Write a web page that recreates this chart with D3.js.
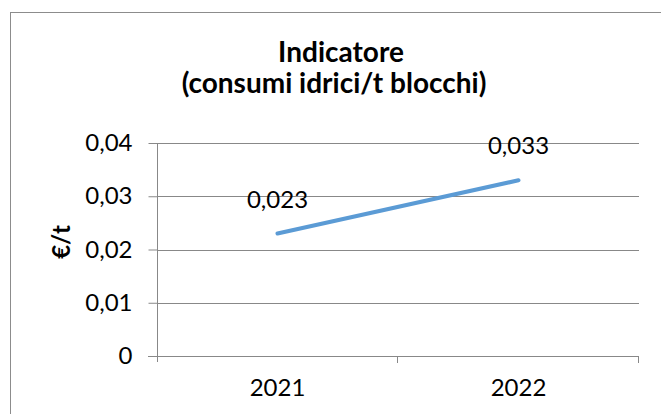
<!DOCTYPE html>
<html>
<head>
<meta charset="utf-8">
<script src="https://cdn.jsdelivr.net/npm/d3@7"></script>
<style>
  body { margin: 0; background: #fff; }
  text { font-family: Lato, "Open Sans", sans-serif; fill: #000; }
</style>
</head>
<body>
<script>
var years = ["2021", "2022"];
var values = [0.023, 0.033];
var labels = ["0,023", "0,033"];
var yTicks = [0, 0.01, 0.02, 0.03, 0.04];

var svgWidth = 661, svgHeight = 414;
var Margin = { top: 143, right: 22, bottom: 58, left: 157 };
var chartWidth = svgWidth - Margin.left - Margin.right;
var chartHeight = svgHeight - Margin.top - Margin.bottom;

var svg = d3.select("body").append("svg")
  .attr("width", svgWidth)
  .attr("height", svgHeight);

// outer chart border
svg.append("rect")
  .attr("x", 10.5).attr("y", 12.5)
  .attr("width", 700).attr("height", 500)
  .attr("fill", "none")
  .attr("stroke", "#8c8c8c");

// title
var title = svg.append("text")
  .attr("text-anchor", "middle")
  .style("font-weight", "bold")
  .style("font-size", "28px");
title.append("tspan").attr("x", 341).attr("y", 62).text("Indicatore");
title.append("tspan").attr("x", 334).attr("y", 93).text("(consumi idrici/t blocchi)");

var chartGroup = svg.append("g")
  .attr("transform", `translate(${Margin.left}, ${Margin.top})`);

var xScale = d3.scaleBand()
  .domain(years)
  .range([0, chartWidth]);

var yScale = d3.scaleLinear()
  .domain([0, 0.04])
  .range([chartHeight, 0]);

// gridlines
chartGroup.selectAll(".grid")
  .data(yTicks.slice(1))
  .enter().append("line")
  .attr("x1", 0).attr("x2", chartWidth)
  .attr("y1", d => Math.round(yScale(d)) + 0.5)
  .attr("y2", d => Math.round(yScale(d)) + 0.5)
  .attr("stroke", "#888")
  .attr("stroke-width", 1);

var leftAxis = d3.axisLeft(yScale)
  .tickValues(yTicks)
  .tickSize(9)
  .tickPadding(16)
  .tickFormat(d => d === 0 ? "0" : d3.format(".2f")(d).replace(".", ","));

var yAxisG = chartGroup.append("g")
  .attr("transform", "translate(0.5,0)")
  .call(leftAxis);
yAxisG.select(".domain").attr("d", `M0,0V${chartHeight + 6}`);

var bottomAxis = d3.axisBottom(xScale)
  .tickSize(0)
  .tickPadding(22);

var xAxisG = chartGroup.append("g")
  .attr("transform", `translate(0, ${Math.round(chartHeight) + 0.5})`)
  .call(bottomAxis);
xAxisG.select(".domain").attr("d", `M-9,0H${chartWidth}`);

// category separator ticks
chartGroup.selectAll(".sep")
  .data(years)
  .enter().append("line")
  .attr("x1", d => Math.round(xScale(d) + xScale.bandwidth()) - 0.5)
  .attr("x2", d => Math.round(xScale(d) + xScale.bandwidth()) - 0.5)
  .attr("y1", chartHeight).attr("y2", chartHeight + 7)
  .attr("stroke", "#888");

svg.selectAll(".domain, .tick line").attr("stroke", "#888");
svg.selectAll(".tick text").style("font-size", "24px").attr("fill", "#000");

// line
var line = d3.line()
  .x((d, i) => xScale(years[i]) + xScale.bandwidth() / 2)
  .y(d => yScale(d));

chartGroup.append("path")
  .datum(values)
  .attr("d", line)
  .attr("fill", "none")
  .attr("stroke", "#5b9bd5")
  .attr("stroke-width", 4)
  .attr("stroke-linecap", "round");

// data labels
chartGroup.selectAll(".lbl")
  .data(values)
  .enter().append("text")
  .attr("x", (d, i) => xScale(years[i]) + xScale.bandwidth() / 2)
  .attr("y", d => yScale(d) - 26)
  .attr("text-anchor", "middle")
  .style("font-size", "24px")
  .text((d, i) => labels[i]);

// y axis title
svg.append("text")
  .attr("transform", "translate(70,242) rotate(-90)")
  .attr("text-anchor", "middle")
  .style("font-weight", "bold")
  .style("font-size", "24px")
  .text("€/t");
</script>
</body>
</html>
